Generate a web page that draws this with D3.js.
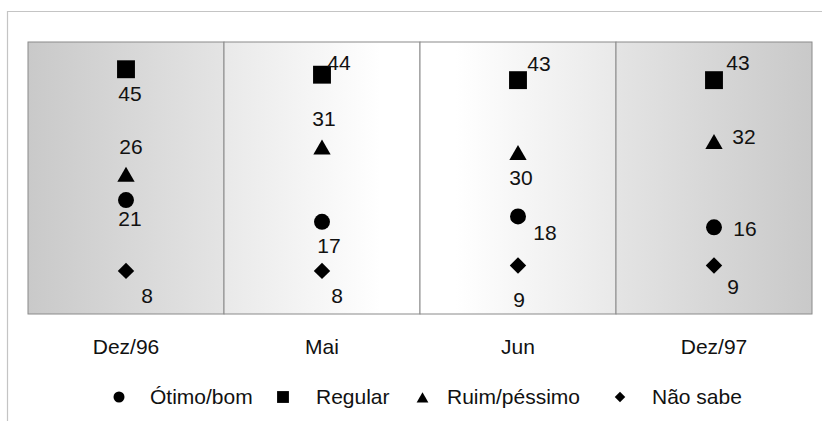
<!DOCTYPE html>
<html>
<head>
<meta charset="utf-8">
<script src="https://cdn.jsdelivr.net/npm/d3@7"></script>
<style>
  body { margin: 0; background: #fff; }
  svg text { font-family: "Liberation Sans", Arial, sans-serif; fill: #111; }
</style>
</head>
<body>
<svg id="chart" width="822" height="421"></svg>
<script>
// chart data
var periods = ["Dez/96", "Mai", "Jun", "Dez/97"];
var seriesNames = ["Ótimo/bom", "Regular", "Ruim/péssimo", "Não sabe"];
var otimoBom = [21, 17, 18, 16];
var regular = [45, 44, 43, 43];
var ruimPessimo = [26, 31, 30, 32];
var naoSabe = [8, 8, 9, 9];
var seriesValues = [otimoBom, regular, ruimPessimo, naoSabe];

// layout only: where each value label sits relative to its marker (dx, dy)
var labelOffsets = [
    [[4, 18], [7, 24], [27, 16], [31, 1]],
    [[4, 24], [17, -12], [21, -17], [24, -18]],
    [[5, -26], [2, -27], [3, 26], [30, -4]],
    [[21, 25], [15, 25], [1, 34], [19, 21]]
];
var bandFills = [
    [["0%", "#c9c9c9"], ["100%", "#e4e4e4"]],
    [["0%", "#e9e9e9"], ["80%", "#ffffff"], ["100%", "#ffffff"]],
    [["0%", "#ffffff"], ["18%", "#ffffff"], ["100%", "#e9e9e9"]],
    [["0%", "#e4e4e4"], ["100%", "#c9c9c9"]]
];
var legendX = [119, 283, 422.5, 620];
var legendTextX = [150, 316, 447, 652];

var margin = {top: 42, left: 28, right: 812, bottom: 314.5};
var svg = d3.select("#chart");

// outer frame (top + left edges visible)
svg.append("path")
    .attr("d", "M7.5,421V11.5H822")
    .attr("fill", "none")
    .attr("stroke", "#c4c4c4")
    .attr("stroke-width", 1.2);

var x = d3.scaleBand()
    .domain(periods)
    .range([margin.left, margin.right])
    .padding(0);

var y = d3.scaleLinear()
    .domain([0, 50])
    .range([margin.bottom, margin.top]);

var defs = svg.append("defs");
periods.forEach(function(p, i) {
    var g = defs.append("linearGradient")
        .attr("id", "band" + i)
        .attr("x1", "0%").attr("x2", "100%")
        .attr("y1", "0%").attr("y2", "0%");
    bandFills[i].forEach(function(s) {
        g.append("stop").attr("offset", s[0]).attr("stop-color", s[1]);
    });
});

svg.append("g").selectAll("rect")
    .data(periods)
  .enter().append("rect")
    .attr("x", function(d) { return x(d); })
    .attr("y", y(50))
    .attr("width", x.bandwidth())
    .attr("height", y(0) - y(50) - 0.5)
    .attr("fill", function(d, i) { return "url(#band" + i + ")"; })
    .attr("stroke", "#8a8a8a")
    .attr("stroke-width", 1);

// category labels
svg.append("g").selectAll("text")
    .data(periods)
  .enter().append("text")
    .attr("x", function(d) { return x(d) + x.bandwidth() / 2; })
    .attr("y", 354)
    .attr("text-anchor", "middle")
    .style("font-size", "21px")
    .text(function(d) { return d; });

var sq = d3.symbol().type(d3.symbolSquare);
var markerPaths = [
    d3.symbol().type(d3.symbolCircle).size(200)(),
    sq.size(320)(),
    d3.symbol().type(d3.symbolTriangle).size(130)(),
    sq.size(135)()
];
var markerTransform = ["", "", "translate(0,4)", "rotate(45)"];

var points = [];
seriesValues.forEach(function(vals, s) {
    vals.forEach(function(v, i) {
        points.push({s: s, i: i, v: v, period: periods[i]});
    });
});

var pt = svg.append("g").selectAll("g")
    .data(points)
  .enter().append("g")
    .attr("transform", function(d) {
        return "translate(" + (x(d.period) + x.bandwidth() / 2) + "," + y(d.v) + ")";
    });

pt.append("path")
    .attr("d", function(d) { return markerPaths[d.s]; })
    .attr("transform", function(d) { return markerTransform[d.s]; })
    .attr("fill", "#000");

pt.append("text")
    .attr("x", function(d) { return labelOffsets[d.s][d.i][0]; })
    .attr("y", function(d) { return labelOffsets[d.s][d.i][1]; })
    .attr("dy", "0.36em")
    .attr("text-anchor", "middle")
    .style("font-size", "21px")
    .text(function(d) { return d.v; });

// legend
var legendPaths = [
    d3.symbol().type(d3.symbolCircle).size(95)(),
    sq.size(140)(),
    d3.symbol().type(d3.symbolTriangle).size(60)(),
    sq.size(55)()
];
var legendTransform = ["", "", "translate(0,2)", "rotate(45)"];
var legend = svg.append("g").selectAll("g")
    .data(seriesNames)
  .enter().append("g");

legend.append("path")
    .attr("d", function(d, i) { return legendPaths[i]; })
    .attr("transform", function(d, i) {
        return "translate(" + legendX[i] + ",397) " + legendTransform[i];
    })
    .attr("fill", "#000");

legend.append("text")
    .attr("x", function(d, i) { return legendTextX[i]; })
    .attr("y", 404)
    .style("font-size", "21px")
    .text(function(d) { return d; });
</script>
</body>
</html>
